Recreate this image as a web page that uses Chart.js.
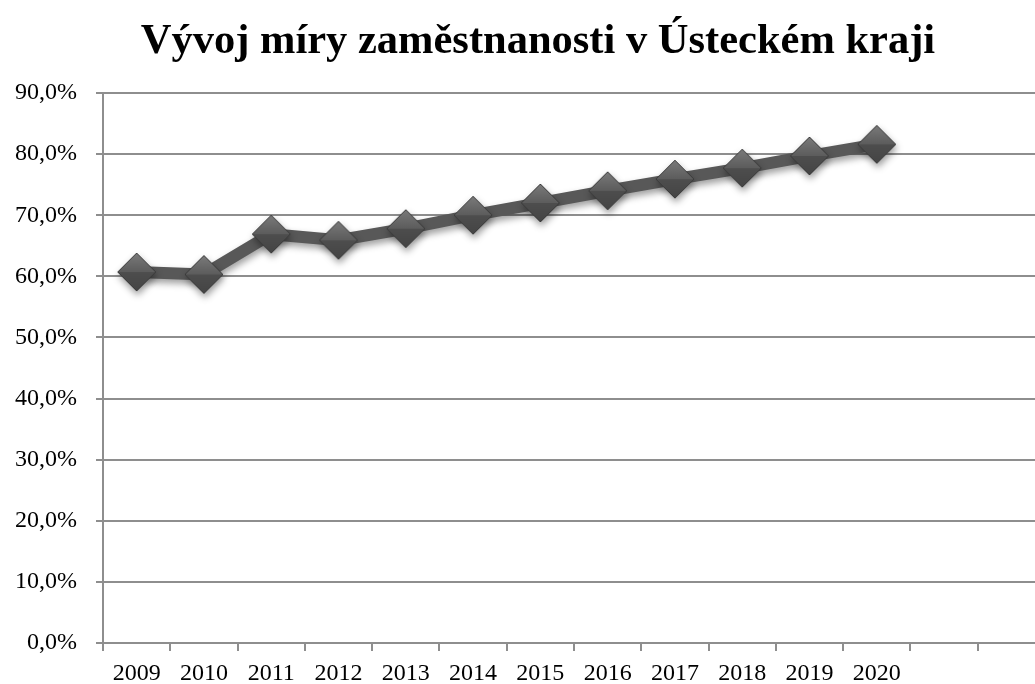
<!DOCTYPE html>
<html>
<head>
<meta charset="utf-8">
<script src="https://cdn.jsdelivr.net/npm/chart.js@4/dist/chart.umd.min.js"></script>
<style>
html,body{margin:0;padding:0;background:#fff;overflow:hidden;}
#wrap{width:1076px;height:684px;}
</style>
</head>
<body>
<div id="wrap"><canvas id="c" width="1076" height="684"></canvas></div>
<script>
const titleText = 'Vývoj míry zaměstnanosti v Ústeckém kraji';
const categories = ['2009','2010','2011','2012','2013','2014','2015','2016','2017','2018','2019','2020','',''];
const employmentRate = [60.7, 60.3, 66.9, 65.9, 67.8, 70.0, 72.0, 74.0, 75.9, 77.7, 79.7, 81.6];
const yTicks = [0, 10, 20, 30, 40, 50, 60, 70, 80, 90];

function makeDiamond() {
  const s = 44, c = s / 2, r = 19;
  const cv = document.createElement('canvas');
  cv.width = s; cv.height = s;
  const g = cv.getContext('2d');
  let gr = g.createLinearGradient(0, c - r, 0, c);
  gr.addColorStop(0, '#7a7a7a');
  gr.addColorStop(1, '#5c5c5c');
  g.fillStyle = gr;
  g.beginPath();
  g.moveTo(c - r, c); g.lineTo(c, c - r); g.lineTo(c + r, c); g.closePath();
  g.fill();
  gr = g.createLinearGradient(0, c, 0, c + r);
  gr.addColorStop(0, '#4e4e4e');
  gr.addColorStop(1, '#444444');
  g.fillStyle = gr;
  g.beginPath();
  g.moveTo(c - r, c); g.lineTo(c + r, c); g.lineTo(c, c + r); g.closePath();
  g.fill();
  g.strokeStyle = '#3a3a3a';
  g.lineWidth = 1;
  g.beginPath();
  g.moveTo(c - r, c); g.lineTo(c, c - r); g.lineTo(c + r, c); g.lineTo(c, c + r); g.closePath();
  g.stroke();
  return cv;
}

const shadowPlugin = {
  id: 'shadow',
  beforeDatasetsDraw(chart) {
    const ctx = chart.ctx;
    ctx.save();
    ctx.shadowColor = 'rgba(0,0,0,0.38)';
    ctx.shadowBlur = 7;
    ctx.shadowOffsetX = 1;
    ctx.shadowOffsetY = 4;
  },
  afterDatasetsDraw(chart) {
    chart.ctx.restore();
  }
};

const fmt = v => v.toFixed(1).replace('.', ',') + '%';

new Chart(document.getElementById('c'), {
  type: 'line',
  data: {
    labels: categories,
    datasets: [{
      data: employmentRate,
      borderColor: '#585858',
      borderWidth: 12,
      pointStyle: makeDiamond(),
      pointRadius: 19,
      pointHoverRadius: 19,
      tension: 0,
      fill: false
    }]
  },
  options: {
    responsive: false,
    animation: false,
    events: [],
    layout: { padding: 0 },
    plugins: {
      legend: { display: false },
      tooltip: { enabled: false },
      title: {
        display: true,
        text: titleText,
        color: '#000',
        font: { family: 'Liberation Serif', size: 42.5, weight: 'bold' },
        padding: { top: 17, bottom: 25 }
      }
    },
    scales: {
      x: {
        type: 'category',
        offset: true,
        grid: { drawOnChartArea: false, offset: true, tickLength: 8, color: '#8e8e8e', lineWidth: 2 },
        border: { display: true, color: '#8e8e8e', width: 2 },
        ticks: {
          color: '#000', font: { family: 'Liberation Serif', size: 24 }, padding: 8,
          autoSkip: false, maxRotation: 0
        },
        afterFit(scale) { scale.height = 41; }
      },
      y: {
        position: 'left',
        min: 0, max: 90,
        afterBuildTicks(scale) { scale.ticks = yTicks.map(v => ({ value: v })); },
        grid: { color: '#8e8e8e', lineWidth: 2, tickLength: 7 },
        border: { display: true, color: '#8e8e8e', width: 2 },
        ticks: {
          color: '#000', font: { family: 'Liberation Serif', size: 24 }, padding: 19,
          callback: v => fmt(v)
        },
        afterFit(scale) { scale.width = 103; }
      }
    }
  },
  plugins: [shadowPlugin]
});
</script>
</body>
</html>
